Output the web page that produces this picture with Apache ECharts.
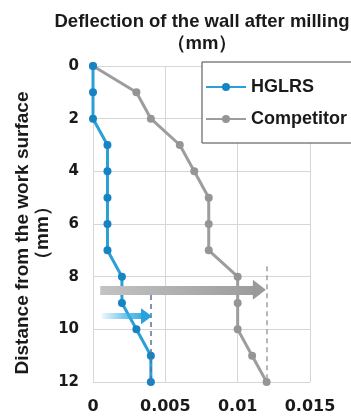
<!DOCTYPE html>
<html>
<head>
<meta charset="utf-8">
<script src="https://cdn.jsdelivr.net/npm/echarts@6/dist/echarts.min.js"></script>
<style>
html,body{margin:0;padding:0;background:#fff;}
#c{width:351px;height:420px;}
</style>
</head>
<body>
<div id="c"></div>
<script>
// ---- data ----
const distances = [0, 1, 2, 3, 4, 5, 6, 7, 8, 9, 10, 11, 12];
const hglrs = [0, 0, 0, 0.001, 0.001, 0.001, 0.001, 0.001, 0.002, 0.002, 0.003, 0.004, 0.004];
const competitor = [0, 0.003, 0.004, 0.006, 0.007, 0.008, 0.008, 0.008, 0.010, 0.010, 0.010, 0.011, 0.012];
const seriesNames = ['HGLRS', 'Competitor'];
const xTicks = [0, 0.005, 0.01, 0.015];
const yTicks = [0, 2, 4, 6, 8, 10, 12];
// max deflection markers: [value, dashed-line start depth]
const hglrsMax = [0.004, 8.7];
const competitorMax = [0.012, 7.6];
// arrows: [start x, shaft end x, depth]
const hglrsArrow = [0.0006, 0.0037, 9.5];
const competitorArrow = [0.0005, 0.0115, 8.5];

const SANS = '"Liberation Sans", Arial, Helvetica, sans-serif';
const TICKFONT = '"DejaVu Sans", Verdana, sans-serif';
const BLUE = '#2a9fd8', BLUE_DK = '#1683c2', GRAY = '#9d9d9d', GRAY_DK = '#959595';

function arrowLines(arr, shaftColor, headColor, width, headSize) {
  return [
    [{coord: [arr[0], arr[2]], symbol: 'none'},
     {coord: [arr[1], arr[2]], symbol: 'none', lineStyle: {color: shaftColor, width: width, type: 'solid'}}],
    [{coord: [arr[1] - 0.0002, arr[2]], symbol: 'none'},
     {coord: [arr[1], arr[2]], symbol: 'triangle', symbolSize: headSize,
      lineStyle: {color: headColor, width: width, type: 'solid'}}]
  ];
}
function dashLine(m, color) {
  return [{coord: [m[0], m[1]], symbol: 'none'},
          {coord: [m[0], 12], symbol: 'none', lineStyle: {color: color, width: 1.5, type: [5, 4]}}];
}

const chart = echarts.init(document.getElementById('c'), null, {renderer: 'canvas'});
const blueGrad = new echarts.graphic.LinearGradient(0, 0, 1, 0, [
  {offset: 0, color: 'rgba(60,175,230,0)'}, {offset: 0.5, color: 'rgba(60,175,230,0.7)'}, {offset: 1, color: '#2aa0dc'}]);
const grayGrad = new echarts.graphic.LinearGradient(0, 0, 1, 0, [
  {offset: 0, color: '#c4c4c4'}, {offset: 1, color: '#9a9a9a'}]);

chart.setOption({
  animation: false,
  backgroundColor: '#fff',
  title: {
    text: 'Deflection of the wall after milling\n（mm）',
    left: 197, top: 6, textAlign: 'center',
    textStyle: {fontFamily: SANS, fontWeight: 'bold', fontSize: 18.5, lineHeight: 22, color: '#1a1a1a'}
  },
  legend: {
    data: seriesNames,
    orient: 'vertical',
    left: 202, top: 62,
    padding: [16, 6, 15, 3],
    itemWidth: 40, itemHeight: 10, itemGap: 14,
    borderColor: '#444', borderWidth: 1, backgroundColor: '#fff',
    textStyle: {fontFamily: SANS, fontWeight: 'bold', fontSize: 18, color: '#1a1a1a'}
  },
  grid: {left: 93, right: 41, top: 66, bottom: 38, containLabel: false, outerBoundsMode: 'none'},
  xAxis: {
    type: 'value', min: 0, max: 0.015, interval: 0.005,
    axisLine: {show: true, lineStyle: {color: '#d6d6d6'}},
    axisTick: {show: false},
    splitLine: {show: true, lineStyle: {color: '#d6d6d6', width: 1}},
    axisLabel: {margin: 17, fontFamily: TICKFONT, fontWeight: 'bold', fontSize: 16, color: '#1a1a1a',
      formatter: v => String(+v.toFixed(3))}
  },
  yAxis: {
    type: 'value', inverse: true, min: 0, max: 12, interval: 2,
    name: 'Distance from the work surface\n（mm）',
    nameLocation: 'middle', nameRotate: 90, nameGap: 40, nameMoveOverlap: false,
    nameTextStyle: {fontFamily: SANS, fontWeight: 'bold', fontSize: 19, lineHeight: 20, color: '#1a1a1a',
      padding: [0, 18, 0, 0]},
    axisLine: {show: true, lineStyle: {color: '#d6d6d6'}},
    axisTick: {show: false},
    splitLine: {show: true, lineStyle: {color: '#d6d6d6', width: 1}},
    axisLabel: {margin: 14, fontFamily: TICKFONT, fontWeight: 'bold', fontSize: 15, color: '#1a1a1a'}
  },
  series: [
    {
      name: seriesNames[0], type: 'line',
      data: distances.map((d, i) => [hglrs[i], d]),
      symbol: 'circle', symbolSize: 8,
      lineStyle: {color: BLUE, width: 3},
      itemStyle: {color: BLUE_DK},
      z: 3,
      markLine: {
        silent: true, symbol: ['none', 'none'], label: {show: false}, animation: false,
        data: [dashLine(hglrsMax, '#56719a')].concat(arrowLines(hglrsArrow, blueGrad, '#2aa0dc', 6, [16, 11]))
      }
    },
    {
      name: seriesNames[1], type: 'line',
      data: distances.map((d, i) => [competitor[i], d]),
      symbol: 'circle', symbolSize: 8,
      lineStyle: {color: GRAY, width: 3},
      itemStyle: {color: GRAY_DK},
      z: 2,
      markLine: {
        silent: true, symbol: ['none', 'none'], label: {show: false}, animation: false,
        data: [dashLine(competitorMax, '#a89c9c')].concat(arrowLines(competitorArrow, grayGrad, '#9a9a9a', 9, [20, 13]))
      }
    }
  ]
});
</script>
</body>
</html>
